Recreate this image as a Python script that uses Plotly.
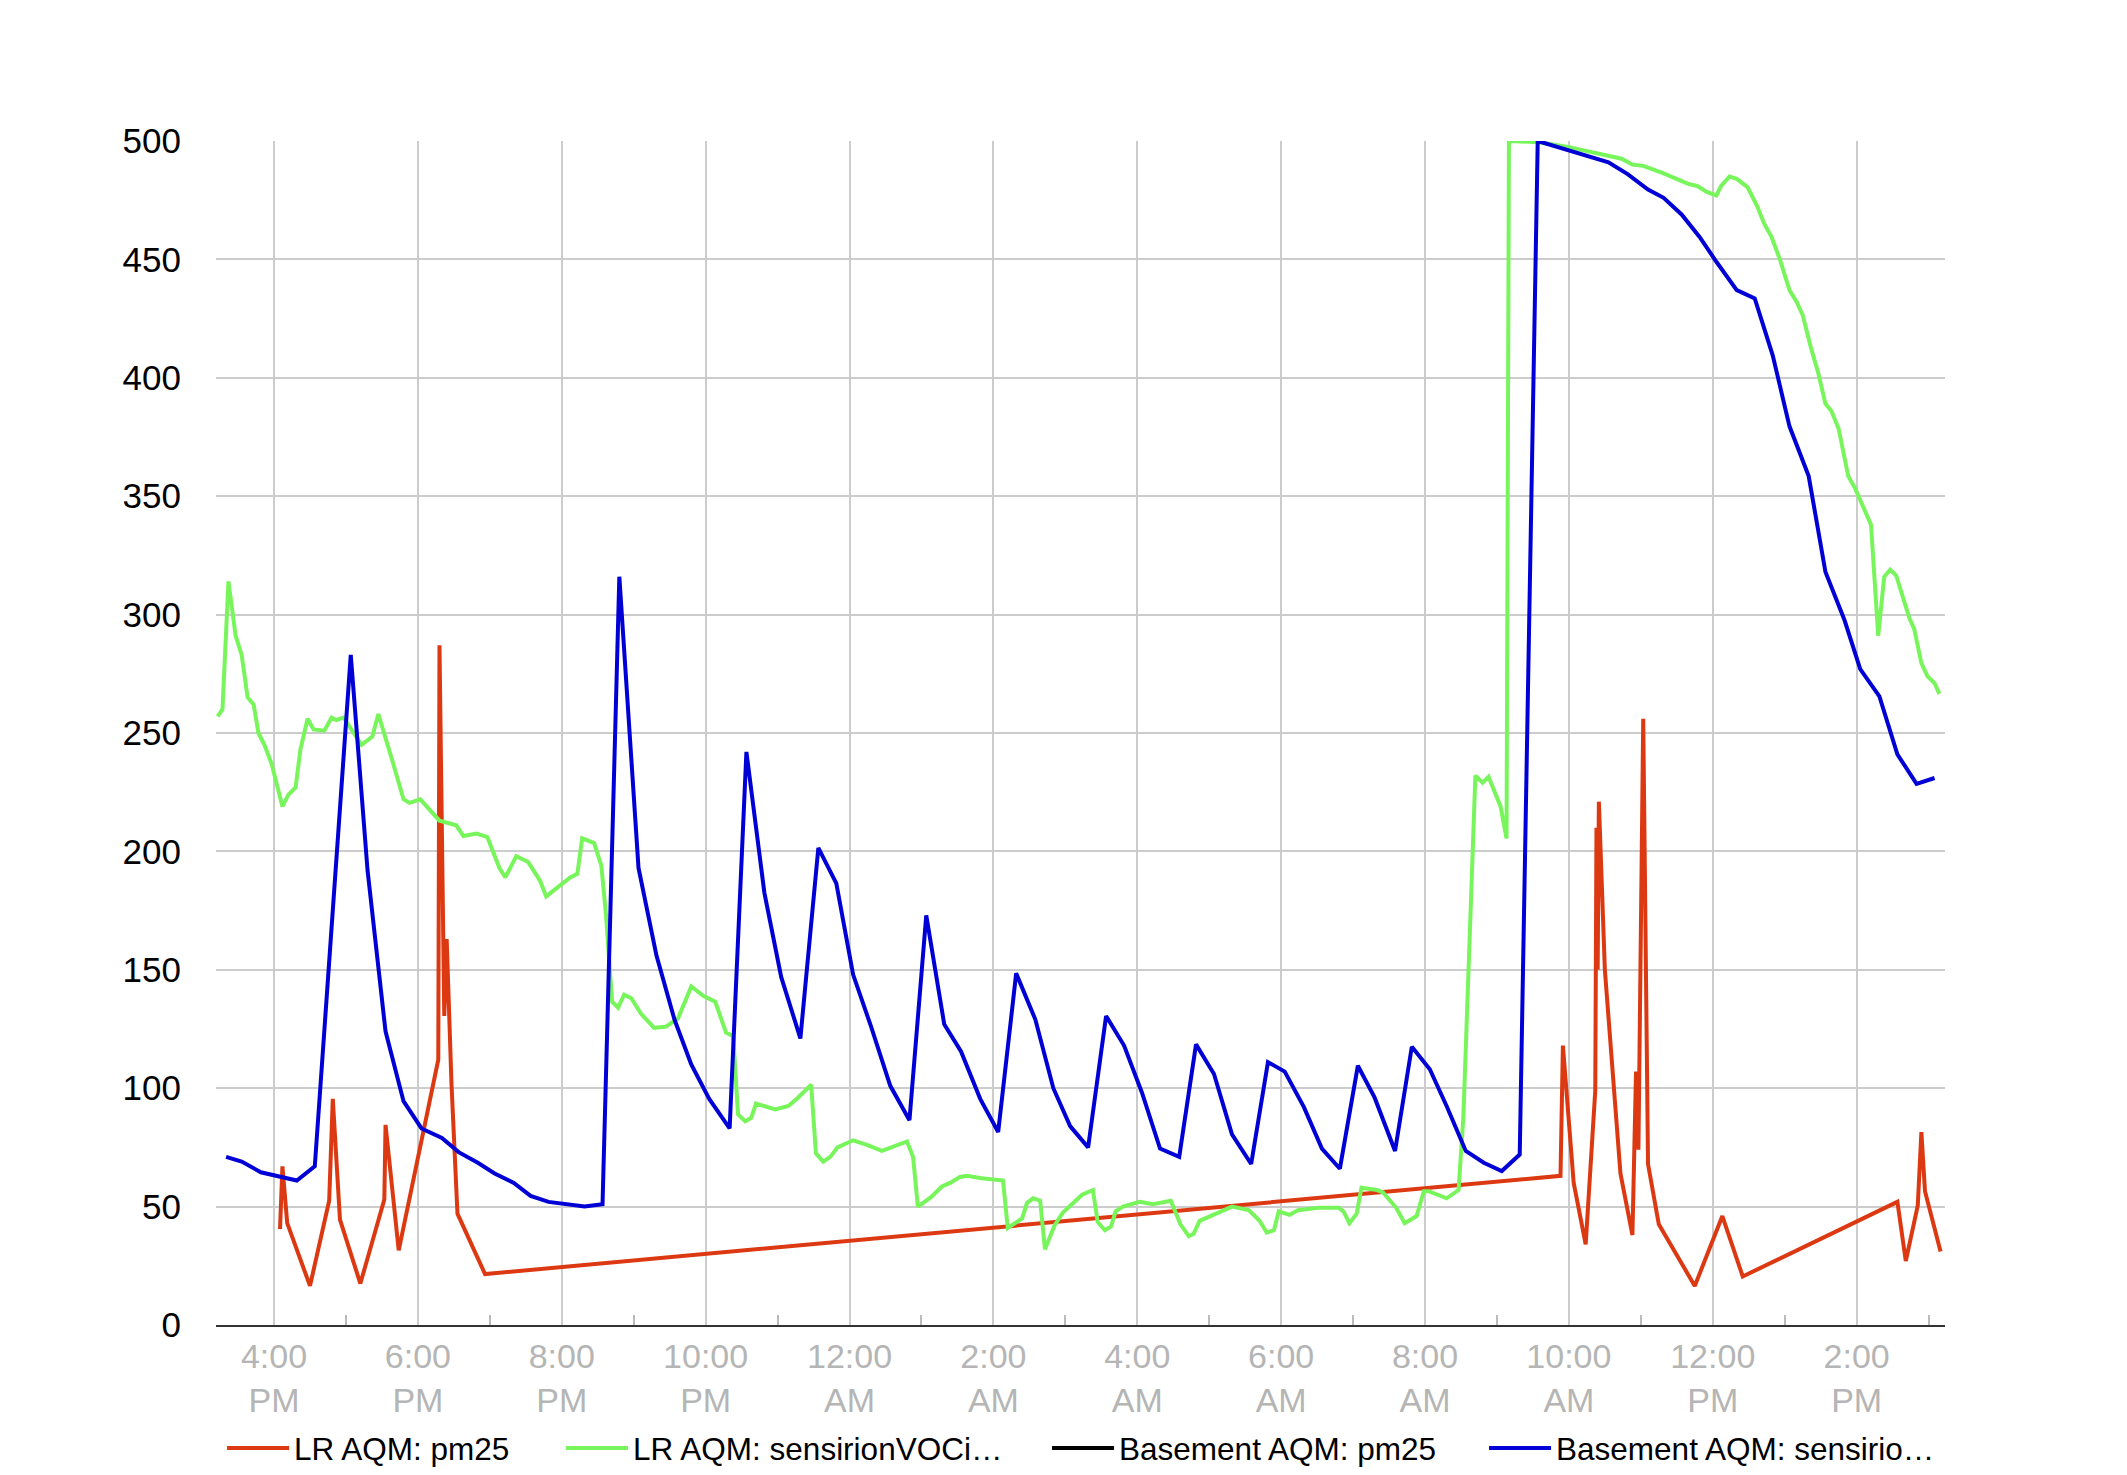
import plotly.graph_objects as go

# ---------------- data ----------------
series_names = ["LR AQM: pm25", "LR AQM: sensirionVOCi…", "Basement AQM: pm25", "Basement AQM: sensirio…"]

lr_pm25_time = [
    "2023-01-14 16:05", "2023-01-14 16:07", "2023-01-14 16:11", "2023-01-14 16:30", "2023-01-14 16:46",
    "2023-01-14 16:49", "2023-01-14 16:55", "2023-01-14 17:12", "2023-01-14 17:32", "2023-01-14 17:33",
    "2023-01-14 17:44", "2023-01-14 18:17", "2023-01-14 18:18", "2023-01-14 18:22", "2023-01-14 18:24",
    "2023-01-14 18:28", "2023-01-14 18:33", "2023-01-14 18:56", "2023-01-15 09:53", "2023-01-15 09:55",
    "2023-01-15 10:04", "2023-01-15 10:14", "2023-01-15 10:22", "2023-01-15 10:23", "2023-01-15 10:24",
    "2023-01-15 10:25", "2023-01-15 10:30", "2023-01-15 10:43", "2023-01-15 10:53", "2023-01-15 10:56",
    "2023-01-15 10:58", "2023-01-15 11:02", "2023-01-15 11:06", "2023-01-15 11:15", "2023-01-15 11:45",
    "2023-01-15 12:08", "2023-01-15 12:25", "2023-01-15 14:34", "2023-01-15 14:41", "2023-01-15 14:51",
    "2023-01-15 14:54", "2023-01-15 14:57", "2023-01-15 15:10",
]
lr_pm25 = [
    40.5, 67, 43, 16.5, 52.5,
    95.5, 44.5, 17.5, 53, 84.5,
    31.5, 112, 287, 130.5, 163,
    102, 47, 21.5, 63, 118,
    60, 34, 99, 210, 150,
    221, 150, 64, 38, 107,
    74, 256, 68, 42.5, 16.5,
    46, 20.5, 52, 27, 50.5,
    81.5, 56.5, 31,
]

lr_voc_time = [
    "2023-01-14 15:13", "2023-01-14 15:17", "2023-01-14 15:22", "2023-01-14 15:28", "2023-01-14 15:33",
    "2023-01-14 15:38", "2023-01-14 15:43", "2023-01-14 15:47", "2023-01-14 15:52", "2023-01-14 15:58",
    "2023-01-14 16:07", "2023-01-14 16:12", "2023-01-14 16:18", "2023-01-14 16:22", "2023-01-14 16:28",
    "2023-01-14 16:33", "2023-01-14 16:42", "2023-01-14 16:48", "2023-01-14 16:52", "2023-01-14 16:58",
    "2023-01-14 17:04", "2023-01-14 17:13", "2023-01-14 17:22", "2023-01-14 17:27", "2023-01-14 17:38",
    "2023-01-14 17:48", "2023-01-14 17:53", "2023-01-14 18:02", "2023-01-14 18:18", "2023-01-14 18:24",
    "2023-01-14 18:32", "2023-01-14 18:38", "2023-01-14 18:49", "2023-01-14 18:58", "2023-01-14 19:08",
    "2023-01-14 19:13", "2023-01-14 19:22", "2023-01-14 19:32", "2023-01-14 19:42", "2023-01-14 19:47",
    "2023-01-14 20:00", "2023-01-14 20:07", "2023-01-14 20:13", "2023-01-14 20:17", "2023-01-14 20:27",
    "2023-01-14 20:33", "2023-01-14 20:37", "2023-01-14 20:42", "2023-01-14 20:47", "2023-01-14 20:52",
    "2023-01-14 20:58", "2023-01-14 21:06", "2023-01-14 21:17", "2023-01-14 21:27", "2023-01-14 21:37",
    "2023-01-14 21:48", "2023-01-14 21:58", "2023-01-14 22:08", "2023-01-14 22:17", "2023-01-14 22:23",
    "2023-01-14 22:27", "2023-01-14 22:33", "2023-01-14 22:38", "2023-01-14 22:42", "2023-01-14 22:58",
    "2023-01-14 23:09", "2023-01-14 23:17", "2023-01-14 23:28", "2023-01-14 23:32", "2023-01-14 23:38",
    "2023-01-14 23:44", "2023-01-14 23:50", "2023-01-15 00:03", "2023-01-15 00:15", "2023-01-15 00:27",
    "2023-01-15 00:38", "2023-01-15 00:48", "2023-01-15 00:53", "2023-01-15 00:57", "2023-01-15 01:08",
    "2023-01-15 01:17", "2023-01-15 01:24", "2023-01-15 01:32", "2023-01-15 01:38", "2023-01-15 01:50",
    "2023-01-15 02:08", "2023-01-15 02:12", "2023-01-15 02:24", "2023-01-15 02:28", "2023-01-15 02:33",
    "2023-01-15 02:39", "2023-01-15 02:43", "2023-01-15 02:51", "2023-01-15 02:58", "2023-01-15 03:05",
    "2023-01-15 03:14", "2023-01-15 03:23", "2023-01-15 03:27", "2023-01-15 03:33", "2023-01-15 03:38",
    "2023-01-15 03:42", "2023-01-15 03:48", "2023-01-15 04:02", "2023-01-15 04:13", "2023-01-15 04:28",
    "2023-01-15 04:36", "2023-01-15 04:43", "2023-01-15 04:47", "2023-01-15 04:52", "2023-01-15 05:05",
    "2023-01-15 05:19", "2023-01-15 05:33", "2023-01-15 05:42", "2023-01-15 05:48", "2023-01-15 05:54",
    "2023-01-15 05:58", "2023-01-15 06:07", "2023-01-15 06:14", "2023-01-15 06:31", "2023-01-15 06:48",
    "2023-01-15 06:52", "2023-01-15 06:57", "2023-01-15 07:03", "2023-01-15 07:07", "2023-01-15 07:20",
    "2023-01-15 07:25", "2023-01-15 07:36", "2023-01-15 07:43", "2023-01-15 07:53", "2023-01-15 07:59",
    "2023-01-15 08:03", "2023-01-15 08:18", "2023-01-15 08:28", "2023-01-15 08:32", "2023-01-15 08:36",
    "2023-01-15 08:39", "2023-01-15 08:42", "2023-01-15 08:48", "2023-01-15 08:53", "2023-01-15 09:03",
    "2023-01-15 09:08", "2023-01-15 09:10", "2023-01-15 09:35", "2023-01-15 09:59", "2023-01-15 10:24",
    "2023-01-15 10:44", "2023-01-15 10:53", "2023-01-15 11:02", "2023-01-15 11:18", "2023-01-15 11:39",
    "2023-01-15 11:47", "2023-01-15 11:55", "2023-01-15 12:03", "2023-01-15 12:07", "2023-01-15 12:14",
    "2023-01-15 12:20", "2023-01-15 12:29", "2023-01-15 12:37", "2023-01-15 12:43", "2023-01-15 12:49",
    "2023-01-15 12:56", "2023-01-15 13:04", "2023-01-15 13:10", "2023-01-15 13:15", "2023-01-15 13:22",
    "2023-01-15 13:28", "2023-01-15 13:34", "2023-01-15 13:39", "2023-01-15 13:45", "2023-01-15 13:53",
    "2023-01-15 13:59", "2023-01-15 14:08", "2023-01-15 14:12", "2023-01-15 14:18", "2023-01-15 14:23",
    "2023-01-15 14:28", "2023-01-15 14:33", "2023-01-15 14:44", "2023-01-15 14:48", "2023-01-15 14:54",
    "2023-01-15 14:59", "2023-01-15 15:05", "2023-01-15 15:09",
]
lr_voc = [
    257, 260, 314, 291, 283,
    265, 262, 250, 245, 237,
    219, 224, 227, 243, 256,
    251.5, 251, 256.5, 255.5, 256.5,
    252, 245, 248.5, 258, 239.5,
    222, 220.5, 222, 213, 212,
    211, 206.5, 207.5, 206, 193,
    189, 198, 195.5, 187.5, 181,
    186, 189, 190.5, 205.5, 203.5,
    194, 172.5, 136.5, 134, 139.5,
    138, 131.5, 125.5, 126, 129.5,
    143, 139, 136.5, 123.5, 122,
    89, 86, 87.5, 93.5, 91,
    92.5, 96, 101.5, 72.5, 69,
    71, 75, 78, 76, 73.5,
    75.5, 77.5, 71, 50, 54,
    58.5, 60, 62.5, 63, 62,
    61, 41, 45, 51.5, 53.5,
    52.5, 32, 42, 47.5, 51,
    55, 57, 43.5, 40, 41.5,
    48, 50, 52, 51, 52.5,
    42.5, 37.5, 38.5, 44, 47,
    50, 48.5, 44, 39, 40,
    48, 46.5, 48.5, 49.5, 49.5,
    48, 43, 47, 58, 57,
    56, 49.5, 43, 46, 56.5,
    56.5, 53.5, 57, 88, 150,
    187, 232, 229, 231.5, 219,
    205.5, 500, 499.5, 497.5, 494.5,
    492.5, 490, 489.5, 486.5, 482,
    481, 478.5, 477, 481, 485,
    484, 480.5, 472.5, 465, 459.5,
    450, 437, 432, 426.5, 412.5,
    402, 389, 386, 378.5, 358.5,
    353, 342.5, 338, 291, 316,
    319, 316.5, 298.5, 294, 279.5,
    274, 271, 266.5,
]

# no readings are visible for this series in the chart
basement_pm25_time = ["2023-01-14 16:05"]
basement_pm25 = [None]

basement_voc_time = [
    "2023-01-14 15:20", "2023-01-14 15:33", "2023-01-14 15:49", "2023-01-14 16:06", "2023-01-14 16:19",
    "2023-01-14 16:34", "2023-01-14 17:04", "2023-01-14 17:18", "2023-01-14 17:33", "2023-01-14 17:48",
    "2023-01-14 18:03", "2023-01-14 18:20", "2023-01-14 18:34", "2023-01-14 18:50", "2023-01-14 19:04",
    "2023-01-14 19:20", "2023-01-14 19:34", "2023-01-14 19:49", "2023-01-14 20:04", "2023-01-14 20:19",
    "2023-01-14 20:34", "2023-01-14 20:48", "2023-01-14 21:04", "2023-01-14 21:19", "2023-01-14 21:34",
    "2023-01-14 21:48", "2023-01-14 22:03", "2023-01-14 22:20", "2023-01-14 22:34", "2023-01-14 22:49",
    "2023-01-14 23:03", "2023-01-14 23:19", "2023-01-14 23:34", "2023-01-14 23:49", "2023-01-15 00:03",
    "2023-01-15 00:18", "2023-01-15 00:34", "2023-01-15 00:50", "2023-01-15 01:04", "2023-01-15 01:19",
    "2023-01-15 01:33", "2023-01-15 01:49", "2023-01-15 02:04", "2023-01-15 02:19", "2023-01-15 02:35",
    "2023-01-15 02:50", "2023-01-15 03:04", "2023-01-15 03:19", "2023-01-15 03:34", "2023-01-15 03:49",
    "2023-01-15 04:04", "2023-01-15 04:19", "2023-01-15 04:35", "2023-01-15 04:49", "2023-01-15 05:04",
    "2023-01-15 05:19", "2023-01-15 05:35", "2023-01-15 05:49", "2023-01-15 06:03", "2023-01-15 06:19",
    "2023-01-15 06:34", "2023-01-15 06:49", "2023-01-15 07:04", "2023-01-15 07:18", "2023-01-15 07:35",
    "2023-01-15 07:49", "2023-01-15 08:04", "2023-01-15 08:18", "2023-01-15 08:34", "2023-01-15 08:49",
    "2023-01-15 09:04", "2023-01-15 09:19", "2023-01-15 09:34", "2023-01-15 09:47", "2023-01-15 10:12",
    "2023-01-15 10:33", "2023-01-15 10:49", "2023-01-15 11:06", "2023-01-15 11:19", "2023-01-15 11:34",
    "2023-01-15 11:49", "2023-01-15 12:03", "2023-01-15 12:20", "2023-01-15 12:35", "2023-01-15 12:50",
    "2023-01-15 13:04", "2023-01-15 13:20", "2023-01-15 13:34", "2023-01-15 13:50", "2023-01-15 14:03",
    "2023-01-15 14:19", "2023-01-15 14:34", "2023-01-15 14:50", "2023-01-15 15:05",
]
basement_voc = [
    71, 69, 64.5, 62.5, 61,
    67, 283, 192, 124, 94.5,
    83, 79, 73, 68.5, 64,
    60, 54.5, 52, 51, 50,
    51, 316, 193, 156, 129,
    110, 95.5, 83, 242, 182.5,
    147, 121, 201.5, 186.5, 148,
    126, 101, 86.5, 173, 127,
    115.5, 95.5, 81.5, 148.5, 129,
    100, 84, 75, 130.5, 118,
    98, 74.5, 71, 118.5, 106,
    80.5, 68, 111, 107, 92,
    74.5, 66, 109.5, 96, 73.5,
    117.5, 108, 92.5, 73.5, 68.5,
    65, 72, 500, 498, 494.5,
    491, 486, 479.5, 476, 469,
    459.5, 449, 437, 433.5, 409.5,
    379.5, 358.5, 318, 297.5, 277,
    265.5, 241, 228.5, 231,
]

x_tick_vals = [
    "2023-01-14 16:00", "2023-01-14 18:00", "2023-01-14 20:00", "2023-01-14 22:00",
    "2023-01-15 00:00", "2023-01-15 02:00", "2023-01-15 04:00", "2023-01-15 06:00",
    "2023-01-15 08:00", "2023-01-15 10:00", "2023-01-15 12:00", "2023-01-15 14:00",
]
x_tick_text = [
    "4:00<br>PM", "6:00<br>PM", "8:00<br>PM", "10:00<br>PM",
    "12:00<br>AM", "2:00<br>AM", "4:00<br>AM", "6:00<br>AM",
    "8:00<br>AM", "10:00<br>AM", "12:00<br>PM", "2:00<br>PM",
]
x_minor_vals = [
    "2023-01-14 17:00", "2023-01-14 19:00", "2023-01-14 21:00", "2023-01-14 23:00",
    "2023-01-15 01:00", "2023-01-15 03:00", "2023-01-15 05:00", "2023-01-15 07:00",
    "2023-01-15 09:00", "2023-01-15 11:00", "2023-01-15 13:00", "2023-01-15 15:00",
]
x_range = ["2023-01-14 15:11:36", "2023-01-15 15:13:42"]
y_tick_vals = [0, 50, 100, 150, 200, 250, 300, 350, 400, 450, 500]

# ---------------- figure ----------------
FONT = "Liberation Sans, Arial, sans-serif"
colors = ["#dc3912", "#77f55b", "#000000", "#0000d6"]
legend_widths = [262, 409, 360, 380]

fig = go.Figure()
all_series = [
    (lr_pm25_time, lr_pm25),
    (lr_voc_time, lr_voc),
    (basement_pm25_time, basement_pm25),
    (basement_voc_time, basement_voc),
]
for (t, v), name, col, lw in zip(all_series, series_names, colors, legend_widths):
    fig.add_trace(go.Scatter(
        x=t, y=v, name=name, mode="lines",
        line=dict(color=col, width=4),
        legendwidth=lw,
    ))

fig.update_layout(
    width=2111, height=1459,
    autosize=False,
    margin=dict(l=208, r=174, t=133, b=142, autoexpand=False),
    paper_bgcolor="white",
    plot_bgcolor="white",
    font=dict(family=FONT, color="#000000"),
    showlegend=True,
    legend=dict(
        orientation="h",
        xref="paper", x=0.0035, xanchor="left",
        yref="container", y=0.0315, yanchor="top",
        font=dict(size=31.5, family=FONT, color="#000000"),
        bgcolor="rgba(0,0,0,0)",
        itemwidth=62,
        tracegroupgap=0,
    ),
)

fig.update_xaxes(
    type="date",
    range=x_range,
    tickmode="array",
    tickvals=x_tick_vals,
    ticktext=x_tick_text,
    showgrid=True,
    gridcolor="#cccccc",
    gridwidth=2,
    showline=True,
    linecolor="#333333",
    linewidth=2,
    ticks="",
    tickfont=dict(size=34, color="#b5b5b5", family=FONT),
    ticklabelstandoff=0,
    zeroline=False,
    automargin=False,
    minor=dict(
        tickmode="array",
        tickvals=x_minor_vals,
        ticks="inside",
        ticklen=10,
        tickwidth=2,
        tickcolor="#bbbbbb",
        showgrid=False,
    ),
)

fig.update_yaxes(
    range=[0, 500],
    tickmode="array",
    tickvals=y_tick_vals,
    showgrid=True,
    gridcolor="#cccccc",
    gridwidth=2,
    zeroline=False,
    showline=False,
    ticks="",
    tickfont=dict(size=35, color="#000000", family=FONT),
    ticklabelstandoff=34,
    automargin=False,
)

fig.write_html("out.html")
